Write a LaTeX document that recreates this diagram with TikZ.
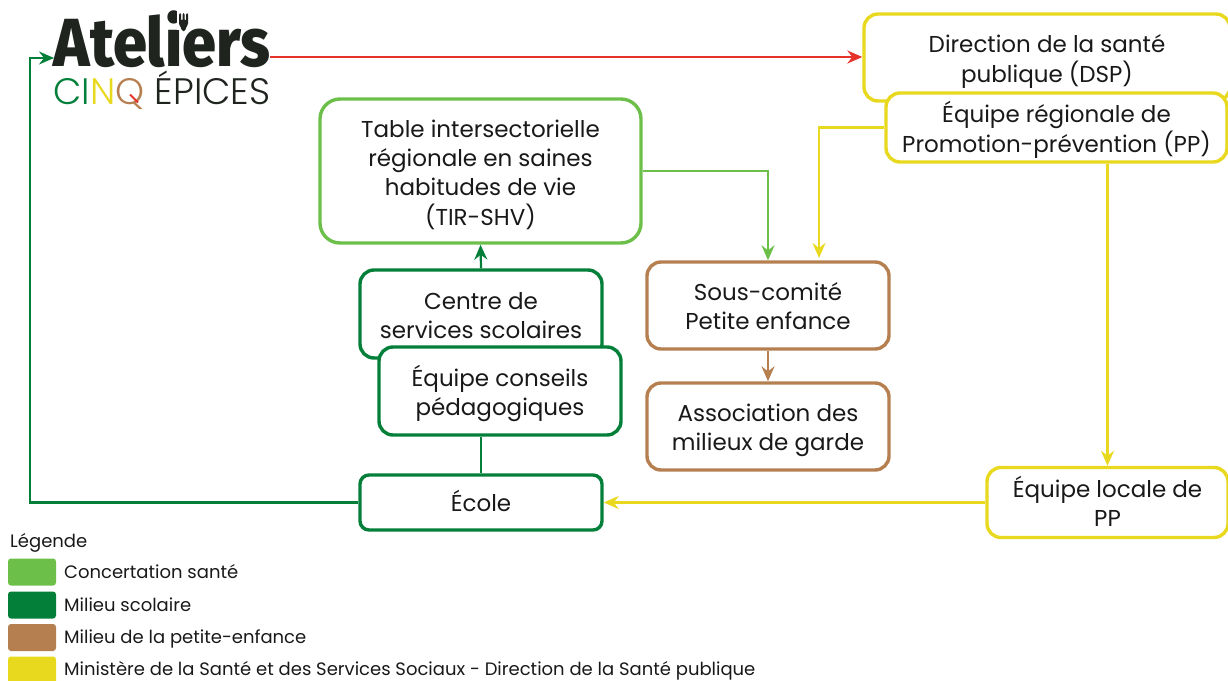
\documentclass[tikz,border=0pt]{standalone}
\usepackage{fontspec}
\setmainfont{Poppins}
\newfontfamily\logofont{Fira Sans}[UprightFont=* ExtraBold]
\newfontfamily\logothin{Poppins}[UprightFont=* Light]
\usetikzlibrary{arrows.meta,calc}
\definecolor{cLight}{HTML}{6CC04A}
\definecolor{cDark}{HTML}{037F3A}
\definecolor{cBrown}{HTML}{B57F50}
\definecolor{cYellow}{HTML}{E8D81E}
\definecolor{cRed}{HTML}{E5332A}
\definecolor{cInk}{HTML}{1F241F}
\newcommand\lbl[2]{\raisebox{#1}[\height][\depth]{\begin{tabular}{@{}c@{}}#2\end{tabular}}}
\tikzset{
  box/.style={draw=#1,line width=3.4pt,rounded corners=14pt,fill=white,inner sep=0pt,font=\fontsize{23}{29}\selectfont,text=black!90},
  link/.style={draw=#1,line width=2.2pt,-{Stealth[length=15pt,width=13pt,inset=5pt]}},
  plain/.style={draw=#1,line width=2.2pt},
  swatch/.style={fill=#1,rounded corners=3pt,minimum width=48pt,minimum height=27pt,inner sep=0pt},
  legendtext/.style={anchor=west,inner sep=0pt,font=\fontsize{18}{20}\selectfont,text=black!90},
}
\begin{document}
\begin{tikzpicture}[x=1pt,y=-1pt]
\useasboundingbox (0,0) rectangle (1228,680);
% logo
\node[inner sep=0pt,text=cInk,xscale=.9,font=\logofont\fontsize{68}{68}\selectfont] (logoA) at (162,39) {Ateliers};
\node[inner sep=0pt,font=\logothin\fontsize{36.8}{36.8}\selectfont,text=cInk] (logoB) at (162,90.5) {\textcolor{cDark}{CI}\textcolor{cYellow}{N}\textcolor{cBrown}{Q} ÉPICES};
\draw[cRed,line width=2pt] (130,94.5) -- (138,102.5);
% fork on the i
\fill[white] (176.5,9) rectangle (191,30);
\fill[cInk,rounded corners=1.5pt] (179,13) -- (181,13) -- (181,21) -- (182.5,21) -- (182.5,13) -- (184.5,13) -- (184.5,21) -- (186,21) -- (186,13) -- (188,13) -- (188,25) -- (185.5,28) -- (185.5,31) -- (181.5,31) -- (181.5,28) -- (179,25) -- cycle;
\coordinate (logoW) at (54,58);
\coordinate (logoE) at (270,57);
% boxes
\node[box=cLight,rounded corners=20pt,minimum width=321pt,minimum height=144pt] (tir) at (480.5,171) {\lbl{-5pt}{Table intersectorielle\\régionale en saines\\habitudes de vie\\(TIR-SHV)}};
\node[box=cDark,minimum width=242pt,minimum height=88pt] (css) at (481,314) {\lbl{-4pt}{Centre de\\services scolaires}};
\node[box=cDark,minimum width=242pt,minimum height=88pt] (epc) at (500,391) {\lbl{-4pt}{Équipe conseils\\pédagogiques}};
\node[box=cDark,minimum width=242pt,minimum height=55pt,rounded corners=9pt] (eco) at (481,502.5) {\lbl{-3pt}{École}};
\node[box=cBrown,minimum width=242pt,minimum height=87pt] (sc) at (768,305.5) {\lbl{-4pt}{Sous-comité\\Petite enfance}};
\node[box=cBrown,minimum width=242pt,minimum height=87pt] (amg) at (768,426.5) {\lbl{-4pt}{Association des\\milieux de garde}};
\node[box=cYellow,minimum width=366pt,minimum height=87pt] (dsp) at (1047,57.5) {\lbl{-4pt}{Direction de la santé\\publique (DSP)}};
\node[box=cYellow,minimum width=341pt,minimum height=69pt] (pp) at (1056.5,127.5) {\lbl{-4pt}{Équipe régionale de\\Promotion-prévention (PP)}};
\node[box=cYellow,minimum width=241pt,minimum height=70pt] (loc) at (1107.5,502.5) {\lbl{-3pt}{Équipe locale de\\PP}};
% connectors
\coordinate (corner) at (30,502.5);
\draw[link=cRed] (logoE) -- (logoE -| dsp.west);
\draw[link=cDark] (eco.west) -- (corner) |- (logoW);
\draw[link=cDark] (css.north) -- (tir.south);
\draw[plain=cDark] (epc.south -| eco.north) -- (eco.north);
\draw[link=cLight] (tir.east) -| (sc.north);
\coordinate (ppdrop) at (819,258);
\draw[link=cYellow] (pp.west) -| (ppdrop);
\draw[link=cYellow] (pp.south -| loc.north) -- (loc.north);
\draw[link=cYellow] (loc.west) -- (eco.east);
\draw[link=cBrown] (sc.south) -- (amg.north);
% legend
\node[legendtext] (lgt) at (10,543) {Légende};
\node[swatch=cLight] (s1) at (32,572) {};
\node[swatch=cDark] (s2) at (32,605) {};
\node[swatch=cBrown] (s3) at (32,637.5) {};
\node[swatch=cYellow] (s4) at (32,670) {};
\node[legendtext] (t1) at (64,572) {Concertation santé};
\node[legendtext] (t2) at (64,604.5) {Milieu scolaire};
\node[legendtext] (t3) at (64,639) {Milieu de la petite-enfance};
\node[legendtext] (t4) at (64,671) {Ministère de la Santé et des Services Sociaux - Direction de la Santé publique};
\end{tikzpicture}
\end{document}
